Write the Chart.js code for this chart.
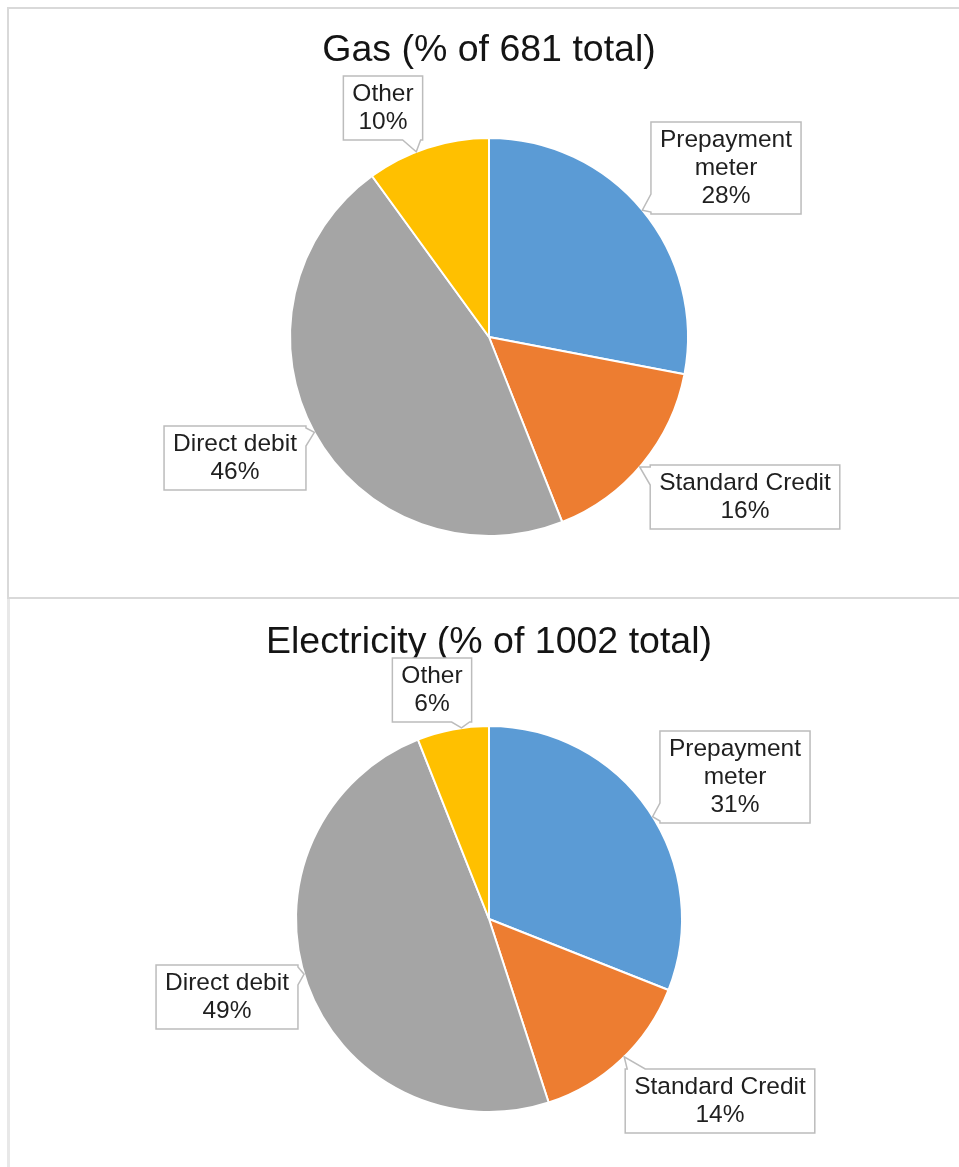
<!DOCTYPE html>
<html>
<head>
<meta charset="utf-8">
<title>Payment methods</title>
<script src="https://cdn.jsdelivr.net/npm/chart.js@4"></script>
<style>
  body { margin: 0; background: #fff; width: 959px; height: 1167px; overflow: hidden; position: relative; }
  .panel { position: absolute; box-sizing: border-box; }
  #gasPanel { left: 7px; top: 7px; width: 970px; height: 592px; border: 2px solid #d9d9d9; border-right: none; }
  #elecPanel { left: 7px; top: 599px; width: 970px; height: 600px; border-left: 3px solid #e8e8e8; }
  canvas { position: absolute; left: 0; }
  #gasChart { top: 0; }
  #elecChart { top: 598px; }
</style>
</head>
<body>
<div class="panel" id="gasPanel"></div>
<div class="panel" id="elecPanel"></div>
<canvas id="gasChart" width="959" height="598"></canvas>
<canvas id="elecChart" width="959" height="569"></canvas>

<script>
    const categories = [['Prepayment', 'meter'], 'Standard Credit', 'Direct debit', 'Other'];
    const gasShare = [28, 16, 46, 10];
    const elecShare = [31, 14, 49, 6];
    const gasTotal = 681;
    const elecTotal = 1002;
    const sliceColours = ['#5b9bd5', '#ed7d31', '#a5a5a5', '#ffc000'];

    // callout box centres (offset from pie centre) and the edge the pointer comes out of
    const gasCallouts = [
        { dx: 237, dy: -169, side: 'left' },
        { dx: 256, dy: 160, side: 'left' },
        { dx: -254, dy: 121, side: 'right' },
        { dx: -106, dy: -229, side: 'bottom' }
    ];
    const elecCallouts = [
        { dx: 246, dy: -142, side: 'left' },
        { dx: 231, dy: 182, side: 'top' },
        { dx: -262, dy: 78, side: 'right' },
        { dx: -57, dy: -229, side: 'bottom' }
    ];

    const labelFont = '24.5px "Liberation Sans", Arial, sans-serif';

    const calloutPlugin = {
        id: 'callouts',
        afterDatasetsDraw(chart, args, opts) {
            const ctx = chart.ctx;
            const meta = chart.getDatasetMeta(0);
            const values = chart.data.datasets[0].data;
            ctx.save();
            ctx.font = labelFont;
            meta.data.forEach((arc, i) => {
                const { x, y, startAngle, endAngle, outerRadius } =
                    arc.getProps(['x', 'y', 'startAngle', 'endAngle', 'outerRadius'], true);
                const spot = opts.layout[i];
                const name = chart.data.labels[i];
                const lines = (Array.isArray(name) ? name.slice() : [name]).concat(values[i] + '%');
                const w = Math.max(...lines.map(l => ctx.measureText(l).width)) + 18;
                const h = lines.length * 28 + 8;
                const cx = x + spot.dx, cy = y + spot.dy;
                const L = cx - w / 2, R = cx + w / 2, T = cy - h / 2, B = cy + h / 2;
                const edges = [
                    ['top', [L, T], [R, T]],
                    ['right', [R, T], [R, B]],
                    ['bottom', [R, B], [L, B]],
                    ['left', [L, B], [L, T]]
                ];

                // pointer base: short run on the chosen edge, at the end nearer the pie centre
                const edge = edges.find(e => e[0] === spot.side);
                const p0 = edge[1], p1 = edge[2];
                const len = Math.hypot(p1[0] - p0[0], p1[1] - p0[1]);
                const nearStart = Math.hypot(p0[0] - x, p0[1] - y) < Math.hypot(p1[0] - x, p1[1] - y);
                const s = nearStart ? [2, 20] : [len - 20, len - 2];
                const at = t => [p0[0] + (p1[0] - p0[0]) * t / len, p0[1] + (p1[1] - p0[1]) * t / len];
                const b1 = at(s[0]), b2 = at(s[1]);

                // tip on the slice rim, aimed at the base, kept inside the slice
                let a = Math.atan2((b1[1] + b2[1]) / 2 - y, (b1[0] + b2[0]) / 2 - x);
                while (a < startAngle) a += 2 * Math.PI;
                while (a >= startAngle + 2 * Math.PI) a -= 2 * Math.PI;
                if (a > endAngle) {
                    a = (a - endAngle) < (startAngle + 2 * Math.PI - a) ? endAngle - 0.04 : startAngle + 0.04;
                }
                const tip = [x + outerRadius * Math.cos(a), y + outerRadius * Math.sin(a)];

                ctx.beginPath();
                ctx.moveTo(L, T);
                edges.forEach(([side, from, to]) => {
                    if (side === spot.side) {
                        ctx.lineTo(b1[0], b1[1]);
                        ctx.lineTo(tip[0], tip[1]);
                        ctx.lineTo(b2[0], b2[1]);
                    }
                    ctx.lineTo(to[0], to[1]);
                });
                ctx.closePath();
                ctx.fillStyle = '#fff';
                ctx.fill();
                ctx.strokeStyle = '#bcbcbc';
                ctx.lineWidth = 1.5;
                ctx.stroke();

                ctx.fillStyle = '#1f1f1f';
                ctx.textAlign = 'center';
                ctx.textBaseline = 'middle';
                lines.forEach((line, k) => ctx.fillText(line, cx, T + 18 + k * 28));
            });
            ctx.restore();
        }
    };

    function makePie(canvasId, titleText, values, callouts, titlePad, layoutPad) {
        const ctx = document.getElementById(canvasId).getContext('2d');
        return new Chart(ctx, {
            type: 'pie',
            data: {
                labels: categories,
                datasets: [{
                    data: values,
                    backgroundColor: sliceColours,
                    borderColor: '#ffffff',
                    borderWidth: 2
                }]
            },
            options: {
                responsive: false,
                animation: false,
                layout: { padding: layoutPad },
                plugins: {
                    legend: { display: false },
                    tooltip: { enabled: false },
                    title: {
                        display: true,
                        text: titleText,
                        color: '#141414',
                        font: { family: '"Liberation Sans", Arial, sans-serif', size: 37.5, weight: 'normal', lineHeight: 1.2 },
                        padding: titlePad
                    },
                    callouts: { layout: callouts }
                }
            },
            plugins: [calloutPlugin]
        });
    }

    makePie('gasChart', 'Gas (% of ' + gasTotal + ' total)', gasShare, gasCallouts,
        { top: 28.5, bottom: 63.5 }, { top: 0, left: 19, right: 0, bottom: 61 });
    makePie('elecChart', 'Electricity (% of ' + elecTotal + ' total)', elecShare, elecCallouts,
        { top: 22.5, bottom: 59.5 }, { top: 0, left: 19, right: 0, bottom: 54 });
</script>
</body>
</html>
